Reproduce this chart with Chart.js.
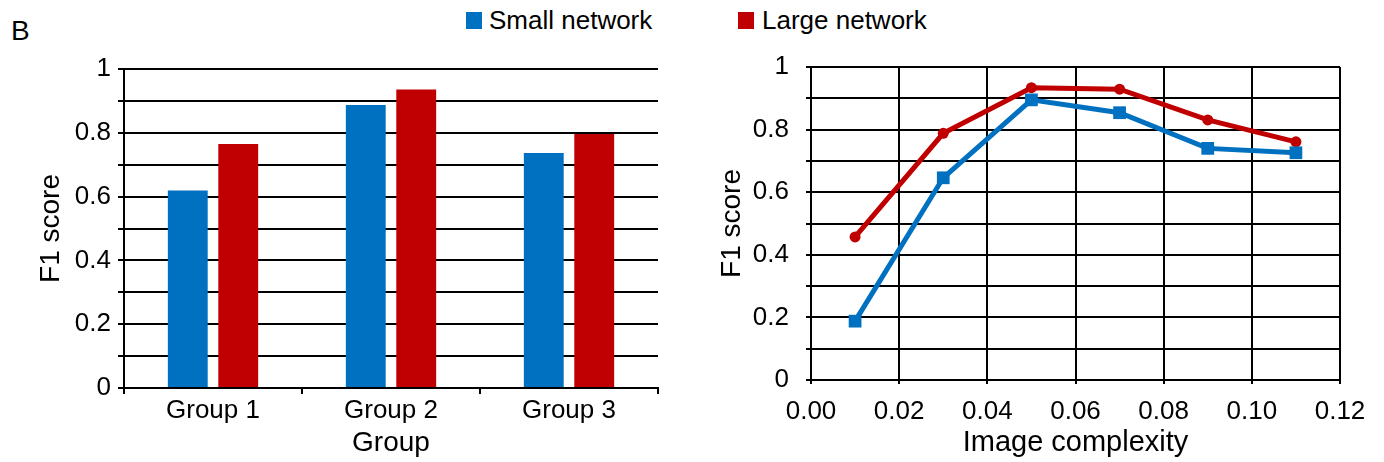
<!DOCTYPE html>
<html>
<head>
<meta charset="utf-8">
<script src="https://cdn.jsdelivr.net/npm/chart.js@4"></script>
<style>
  body { margin: 0; background: #fff; }
  #page { position: relative; width: 1384px; height: 462px; font-family: "Liberation Sans", Arial, sans-serif; color: #000; }
  canvas { position: absolute; top: 0; }
  .lbl { position: absolute; white-space: nowrap; }
  .sw { position: absolute; width: 16px; height: 17px; }
</style>
</head>
<body>
<div id="page">
  <div class="lbl" style="left:11px; top:15px; font-size:28px; line-height:32px;">B</div>
  <div class="sw" style="left:466px; top:12px; background:#0070C0;"></div>
  <div class="lbl" style="left:489px; top:5px; font-size:26px; line-height:30px;">Small network</div>
  <div class="sw" style="left:738px; top:12px; background:#C00000;"></div>
  <div class="lbl" style="left:762px; top:5px; font-size:26px; line-height:30px;">Large network</div>
  <canvas id="bars" width="680" height="462" style="left:0px;"></canvas>
  <canvas id="lines" width="694" height="462" style="left:690px;"></canvas>
</div>
<script>
const groupLabels = ["Group 1", "Group 2", "Group 3"];
const smallBars = [0.619, 0.887, 0.737];
const largeBars = [0.765, 0.936, 0.796];

const complexity = [0.01, 0.03, 0.05, 0.07, 0.09, 0.11];
const smallLine = [0.188, 0.646, 0.895, 0.854, 0.740, 0.726];
const largeLine = [0.457, 0.788, 0.934, 0.929, 0.831, 0.761];

const BLUE = "#0070C0";
const RED = "#C00000";

Chart.defaults.font.family = '"Liberation Sans", Arial, sans-serif';
Chart.defaults.color = "#000";

function evenTenths(value) {
  const n = Math.round(value * 10);
  return n % 2 === 0 ? String(n / 10) : "";
}

function yScale(tickPad, tickLen, axisWidth) {
  return {
    min: 0,
    max: 1,
    ticks: { stepSize: 0.1, padding: tickPad, font: { size: 26 }, callback: evenTenths, autoSkip: false },
    grid: { color: "#000", lineWidth: 2, tickLength: tickLen },
    border: { color: "#000", width: 2 },
    title: { display: true, text: "F1 score", font: { size: 28 }, padding: 0 },
    afterFit: function (s) {
      s.width = axisWidth;
    },
  };
}

new Chart(document.getElementById("bars"), {
  type: "bar",
  data: {
    labels: groupLabels,
    datasets: [
      { label: "Small network", data: smallBars, backgroundColor: BLUE },
      { label: "Large network", data: largeBars, backgroundColor: RED },
    ],
  },
  options: {
    responsive: false,
    animation: false,
    barPercentage: 0.79,
    categoryPercentage: 0.567,
    layout: { padding: { left: 34, top: 69, right: 22, bottom: 2 } },
    scales: {
      x: {
        ticks: { padding: 1, font: { size: 26 } },
        grid: { drawOnChartArea: false, drawTicks: true, tickLength: 6, color: "#000", lineWidth: 2 },
        border: { color: "#000", width: 2 },
        title: { display: true, text: "Group", font: { size: 28 }, padding: 0 },
        afterFit: function (s) {
          s.height = 72;
        },
      },
      y: yScale(7, 6, 90),
    },
    plugins: { legend: { display: false }, tooltip: { enabled: false } },
  },
});

new Chart(document.getElementById("lines"), {
  type: "line",
  data: {
    datasets: [
      {
        label: "Small network",
        data: complexity.map((x, i) => ({ x: x, y: smallLine[i] })),
        borderColor: BLUE,
        backgroundColor: BLUE,
        borderWidth: 5,
        pointStyle: "rect",
        pointRadius: 9,
        pointBorderWidth: 0,
      },
      {
        label: "Large network",
        data: complexity.map((x, i) => ({ x: x, y: largeLine[i] })),
        borderColor: RED,
        backgroundColor: RED,
        borderWidth: 5,
        pointStyle: "circle",
        pointRadius: 5.5,
        pointBorderWidth: 0,
      },
    ],
  },
  options: {
    responsive: false,
    animation: false,
    layout: { padding: { left: 25, top: 67, right: 44, bottom: 2 } },
    scales: {
      x: {
        type: "linear",
        min: 0,
        max: 0.12,
        ticks: {
          stepSize: 0.02,
          padding: 12,
          font: { size: 26 },
          callback: (v) => v.toFixed(2),
        },
        grid: { color: "#000", lineWidth: 2, tickLength: 4 },
        border: { color: "#000", width: 2 },
        title: { display: true, text: "Image complexity", font: { size: 29 }, padding: 0 },
        afterFit: function (s) {
          s.height = 80;
        },
      },
      y: yScale(17, 5, 96),
    },
    plugins: { legend: { display: false }, tooltip: { enabled: false } },
  },
});
</script>
</body>
</html>
